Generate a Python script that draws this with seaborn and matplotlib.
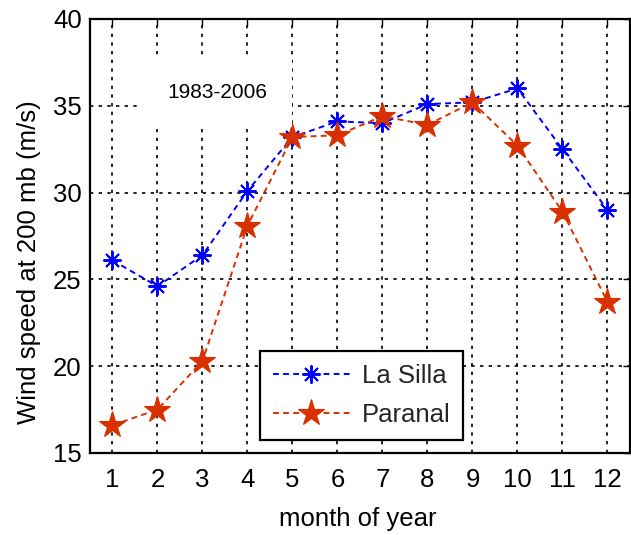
import matplotlib
matplotlib.use("Agg")
import matplotlib.pyplot as plt
import seaborn as sns
import pandas as pd

months = [1, 2, 3, 4, 5, 6, 7, 8, 9, 10, 11, 12]
la_silla = [26.1, 24.6, 26.4, 30.1, 33.2, 34.1, 34.0, 35.1, 35.2, 36.0, 32.5, 29.0]
paranal = [16.6, 17.5, 20.3, 28.1, 33.2, 33.3, 34.4, 33.9, 35.2, 32.7, 28.9, 23.7]
series_names = ["La Silla", "Paranal"]
period_label = "1983-2006"

sns.set_theme(style="white")
plt.rcParams["font.family"] = ["Liberation Sans", "DejaVu Sans"]

df = pd.DataFrame({
    "month": months * 2,
    "speed": la_silla + paranal,
    "site": [series_names[0]] * len(months) + [series_names[1]] * len(months),
})

fig = plt.figure(figsize=(6.31, 5.35), dpi=100)
ax = fig.add_axes([0.1426, 0.1533, 0.8558, 0.8112])

colors = {"La Silla": "#0000ff", "Paranal": "#d93000"}
sns.lineplot(data=df[df.site == "La Silla"], x="month", y="speed", ax=ax,
             color=colors["La Silla"], marker=(8, 2, 0), markersize=13,
             markeredgewidth=1.4, markeredgecolor=colors["La Silla"],
             linewidth=1.4, dashes=False, label="La Silla")
sns.lineplot(data=df[df.site == "Paranal"], x="month", y="speed", ax=ax,
             color=colors["Paranal"], marker="*", markersize=20,
             markeredgewidth=0.8, markeredgecolor=colors["Paranal"],
             markerfacecolor=colors["Paranal"],
             linewidth=1.4, dashes=False, label="Paranal")
for line in ax.get_lines():
    line.set_linestyle((0, (3, 2.2)))

ax.set_xlim(0.5, 12.5)
ax.set_ylim(15, 40)
ax.set_xticks(months)
ax.set_yticks([15, 20, 25, 30, 35, 40])
ax.grid(True, color="black", linestyle=(0, (2, 3.2)), linewidth=1.2)
ax.set_axisbelow(True)

for s in ax.spines.values():
    s.set_color("black")
    s.set_linewidth(1.6)
    s.set_visible(True)

ax.tick_params(axis="both", direction="in", length=5, width=1.0,
               top=True, right=True, labelsize=18.5, colors="black")
ax.tick_params(axis="x", pad=11)
ax.tick_params(axis="y", pad=6)
ax.set_xlabel("month of year", fontsize=18.5, color="black")
ax.set_ylabel("Wind speed at 200 mb (m/s)", fontsize=18.5, color="black")
ax.xaxis.set_label_coords(0.495, -0.125)
ax.yaxis.set_label_coords(-0.09, 0.44)

ax.text(3.32, 35.74, period_label, fontsize=15, ha="center", va="center",
        color="black",
        bbox=dict(boxstyle="square,pad=1.2", facecolor="white", edgecolor="none"))

leg = ax.legend(loc="lower left", bbox_to_anchor=(0.315, 0.03), fontsize=18.5,
                frameon=True, fancybox=False, framealpha=1, edgecolor="black",
                handlelength=3.0, borderpad=0.5, labelspacing=0.6,
                handletextpad=0.45, borderaxespad=0)
leg.get_frame().set_linewidth(1.6)

fig.savefig("out.png", dpi=100)
